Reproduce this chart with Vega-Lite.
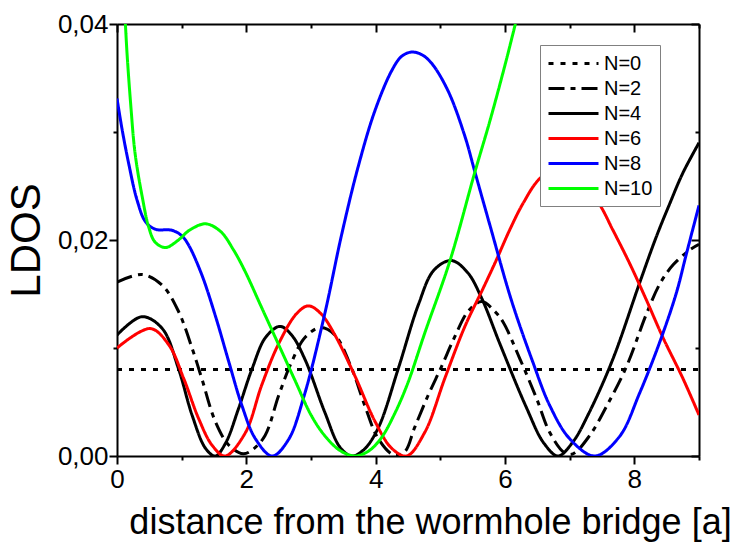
{
  "$schema": "https://vega.github.io/schema/vega-lite/v6.json",
  "width": 582,
  "height": 432,
  "autosize": {"type": "none"},
  "padding": {"left": 117, "top": 24, "right": 44, "bottom": 87},
  "background": "white",
  "config": {
    "view": {"stroke": null},
    "font": "Liberation Sans"
  },
  "data": {
    "values": [
      {"s": "N=0", "x": 0, "y": 0.008}, {"s": "N=0", "x": 9, "y": 0.008},

      {"s": "N=2", "x": 0, "y": 0.0161}, {"s": "N=2", "x": 0.39, "y": 0.0168}, {"s": "N=2", "x": 0.70, "y": 0.0158},
      {"s": "N=2", "x": 0.95, "y": 0.0134}, {"s": "N=2", "x": 1.16, "y": 0.0100}, {"s": "N=2", "x": 1.31, "y": 0.0072},
      {"s": "N=2", "x": 1.52, "y": 0.0032}, {"s": "N=2", "x": 1.73, "y": 0.0010}, {"s": "N=2", "x": 1.95, "y": 0.0002},
      {"s": "N=2", "x": 2.10, "y": 0.0006}, {"s": "N=2", "x": 2.29, "y": 0.0019}, {"s": "N=2", "x": 2.50, "y": 0.0056},
      {"s": "N=2", "x": 2.70, "y": 0.0087}, {"s": "N=2", "x": 2.91, "y": 0.0110}, {"s": "N=2", "x": 3.15, "y": 0.0119},
      {"s": "N=2", "x": 3.37, "y": 0.0112}, {"s": "N=2", "x": 3.63, "y": 0.0081}, {"s": "N=2", "x": 3.83, "y": 0.0047},
      {"s": "N=2", "x": 4.04, "y": 0.0016}, {"s": "N=2", "x": 4.28, "y": 0.0001}, {"s": "N=2", "x": 4.45, "y": 0.0004},
      {"s": "N=2", "x": 4.60, "y": 0.0026}, {"s": "N=2", "x": 4.81, "y": 0.0056}, {"s": "N=2", "x": 5.02, "y": 0.0083},
      {"s": "N=2", "x": 5.22, "y": 0.0110}, {"s": "N=2", "x": 5.43, "y": 0.0134}, {"s": "N=2", "x": 5.64, "y": 0.0143},
      {"s": "N=2", "x": 5.84, "y": 0.0134}, {"s": "N=2", "x": 5.97, "y": 0.0124}, {"s": "N=2", "x": 6.23, "y": 0.0090},
      {"s": "N=2", "x": 6.49, "y": 0.0053}, {"s": "N=2", "x": 6.69, "y": 0.0022}, {"s": "N=2", "x": 6.92, "y": 0.0003},
      {"s": "N=2", "x": 7.05, "y": 0.0002}, {"s": "N=2", "x": 7.31, "y": 0.0019}, {"s": "N=2", "x": 7.57, "y": 0.0046},
      {"s": "N=2", "x": 7.88, "y": 0.0083}, {"s": "N=2", "x": 8.19, "y": 0.0132}, {"s": "N=2", "x": 8.40, "y": 0.0160},
      {"s": "N=2", "x": 8.60, "y": 0.0177}, {"s": "N=2", "x": 8.86, "y": 0.0191}, {"s": "N=2", "x": 9.0, "y": 0.0196},

      {"s": "N=4", "x": 0, "y": 0.0112}, {"s": "N=4", "x": 0.386, "y": 0.0129}, {"s": "N=4", "x": 0.70, "y": 0.0118},
      {"s": "N=4", "x": 0.95, "y": 0.0081}, {"s": "N=4", "x": 1.16, "y": 0.0038}, {"s": "N=4", "x": 1.37, "y": 0.0007},
      {"s": "N=4", "x": 1.52, "y": 0}, {"s": "N=4", "x": 1.68, "y": 0.0012}, {"s": "N=4", "x": 1.88, "y": 0.0044},
      {"s": "N=4", "x": 2.09, "y": 0.0081}, {"s": "N=4", "x": 2.30, "y": 0.0110}, {"s": "N=4", "x": 2.52, "y": 0.0120},
      {"s": "N=4", "x": 2.70, "y": 0.0112}, {"s": "N=4", "x": 2.91, "y": 0.0089}, {"s": "N=4", "x": 3.21, "y": 0.0041},
      {"s": "N=4", "x": 3.45, "y": 0.0008}, {"s": "N=4", "x": 3.63, "y": 0}, {"s": "N=4", "x": 3.82, "y": 0.0006},
      {"s": "N=4", "x": 4.04, "y": 0.0026}, {"s": "N=4", "x": 4.35, "y": 0.0081}, {"s": "N=4", "x": 4.66, "y": 0.0140},
      {"s": "N=4", "x": 4.90, "y": 0.0172}, {"s": "N=4", "x": 5.17, "y": 0.0181}, {"s": "N=4", "x": 5.42, "y": 0.0170},
      {"s": "N=4", "x": 5.64, "y": 0.0146}, {"s": "N=4", "x": 5.92, "y": 0.0104}, {"s": "N=4", "x": 6.33, "y": 0.0045},
      {"s": "N=4", "x": 6.60, "y": 0.0012}, {"s": "N=4", "x": 6.82, "y": 0}, {"s": "N=4", "x": 7.05, "y": 0.0013},
      {"s": "N=4", "x": 7.30, "y": 0.0040}, {"s": "N=4", "x": 7.67, "y": 0.0090}, {"s": "N=4", "x": 8.08, "y": 0.0160},
      {"s": "N=4", "x": 8.34, "y": 0.0203}, {"s": "N=4", "x": 8.55, "y": 0.0234}, {"s": "N=4", "x": 8.75, "y": 0.0262},
      {"s": "N=4", "x": 9.0, "y": 0.0290},

      {"s": "N=6", "x": 0, "y": 0.0100}, {"s": "N=6", "x": 0.515, "y": 0.0118}, {"s": "N=6", "x": 0.80, "y": 0.0103},
      {"s": "N=6", "x": 1.03, "y": 0.0072}, {"s": "N=6", "x": 1.26, "y": 0.0035}, {"s": "N=6", "x": 1.47, "y": 0.0010},
      {"s": "N=6", "x": 1.67, "y": 0}, {"s": "N=6", "x": 1.98, "y": 0.0021}, {"s": "N=6", "x": 2.24, "y": 0.0066},
      {"s": "N=6", "x": 2.50, "y": 0.0104}, {"s": "N=6", "x": 2.78, "y": 0.0132}, {"s": "N=6", "x": 2.96, "y": 0.0139},
      {"s": "N=6", "x": 3.15, "y": 0.0132}, {"s": "N=6", "x": 3.37, "y": 0.0112}, {"s": "N=6", "x": 3.68, "y": 0.0074},
      {"s": "N=6", "x": 3.99, "y": 0.0032}, {"s": "N=6", "x": 4.25, "y": 0.0007}, {"s": "N=6", "x": 4.48, "y": 0},
      {"s": "N=6", "x": 4.76, "y": 0.0022}, {"s": "N=6", "x": 5.07, "y": 0.0072}, {"s": "N=6", "x": 5.38, "y": 0.0120},
      {"s": "N=6", "x": 5.66, "y": 0.0155}, {"s": "N=6", "x": 5.87, "y": 0.0182}, {"s": "N=6", "x": 6.07, "y": 0.0209},
      {"s": "N=6", "x": 6.28, "y": 0.0234}, {"s": "N=6", "x": 6.54, "y": 0.0257}, {"s": "N=6", "x": 6.94, "y": 0.0272},
      {"s": "N=6", "x": 7.44, "y": 0.0235}, {"s": "N=6", "x": 7.67, "y": 0.0209}, {"s": "N=6", "x": 7.93, "y": 0.0178},
      {"s": "N=6", "x": 8.19, "y": 0.0144}, {"s": "N=6", "x": 8.44, "y": 0.0110}, {"s": "N=6", "x": 8.75, "y": 0.0072},
      {"s": "N=6", "x": 9.0, "y": 0.0038},

      {"s": "N=8", "x": 0, "y": 0.0331}, {"s": "N=8", "x": 0.08, "y": 0.0302}, {"s": "N=8", "x": 0.18, "y": 0.0271},
      {"s": "N=8", "x": 0.31, "y": 0.0237}, {"s": "N=8", "x": 0.44, "y": 0.0217}, {"s": "N=8", "x": 0.59, "y": 0.0210},
      {"s": "N=8", "x": 0.85, "y": 0.0209}, {"s": "N=8", "x": 1.0, "y": 0.0204}, {"s": "N=8", "x": 1.11, "y": 0.0195},
      {"s": "N=8", "x": 1.31, "y": 0.0168}, {"s": "N=8", "x": 1.52, "y": 0.0130}, {"s": "N=8", "x": 1.73, "y": 0.0087},
      {"s": "N=8", "x": 1.93, "y": 0.0047}, {"s": "N=8", "x": 2.14, "y": 0.0016}, {"s": "N=8", "x": 2.40, "y": 0},
      {"s": "N=8", "x": 2.65, "y": 0.0015}, {"s": "N=8", "x": 2.89, "y": 0.0055}, {"s": "N=8", "x": 3.21, "y": 0.0131},
      {"s": "N=8", "x": 3.47, "y": 0.0204}, {"s": "N=8", "x": 3.73, "y": 0.0268}, {"s": "N=8", "x": 3.99, "y": 0.0320},
      {"s": "N=8", "x": 4.25, "y": 0.0357}, {"s": "N=8", "x": 4.40, "y": 0.0370}, {"s": "N=8", "x": 4.55, "y": 0.0374},
      {"s": "N=8", "x": 4.70, "y": 0.0372}, {"s": "N=8", "x": 4.86, "y": 0.0364}, {"s": "N=8", "x": 5.12, "y": 0.0338},
      {"s": "N=8", "x": 5.38, "y": 0.0296}, {"s": "N=8", "x": 5.53, "y": 0.0264}, {"s": "N=8", "x": 5.77, "y": 0.0213},
      {"s": "N=8", "x": 6.10, "y": 0.0144}, {"s": "N=8", "x": 6.43, "y": 0.0087}, {"s": "N=8", "x": 6.69, "y": 0.0047},
      {"s": "N=8", "x": 7.0, "y": 0.0016}, {"s": "N=8", "x": 7.39, "y": 0}, {"s": "N=8", "x": 7.77, "y": 0.0018},
      {"s": "N=8", "x": 8.08, "y": 0.0058}, {"s": "N=8", "x": 8.39, "y": 0.0105}, {"s": "N=8", "x": 8.65, "y": 0.0151},
      {"s": "N=8", "x": 8.80, "y": 0.0186}, {"s": "N=8", "x": 9.0, "y": 0.0232},

      {"s": "N=10", "x": 0.13, "y": 0.0400}, {"s": "N=10", "x": 0.155, "y": 0.0373}, {"s": "N=10", "x": 0.21, "y": 0.0327},
      {"s": "N=10", "x": 0.28, "y": 0.0280}, {"s": "N=10", "x": 0.39, "y": 0.0240}, {"s": "N=10", "x": 0.49, "y": 0.0212},
      {"s": "N=10", "x": 0.59, "y": 0.0198}, {"s": "N=10", "x": 0.75, "y": 0.0193}, {"s": "N=10", "x": 0.95, "y": 0.0200},
      {"s": "N=10", "x": 1.12, "y": 0.0209}, {"s": "N=10", "x": 1.37, "y": 0.0215}, {"s": "N=10", "x": 1.60, "y": 0.0208},
      {"s": "N=10", "x": 1.80, "y": 0.0191}, {"s": "N=10", "x": 1.98, "y": 0.0171}, {"s": "N=10", "x": 2.24, "y": 0.0137},
      {"s": "N=10", "x": 2.50, "y": 0.0103}, {"s": "N=10", "x": 2.76, "y": 0.0069}, {"s": "N=10", "x": 3.00, "y": 0.0038},
      {"s": "N=10", "x": 3.21, "y": 0.0019}, {"s": "N=10", "x": 3.45, "y": 0.0005}, {"s": "N=10", "x": 3.68, "y": 0},
      {"s": "N=10", "x": 3.90, "y": 0.0005}, {"s": "N=10", "x": 4.09, "y": 0.0017}, {"s": "N=10", "x": 4.30, "y": 0.0040},
      {"s": "N=10", "x": 4.50, "y": 0.0068}, {"s": "N=10", "x": 4.76, "y": 0.0114}, {"s": "N=10", "x": 5.15, "y": 0.0181},
      {"s": "N=10", "x": 5.53, "y": 0.0262}, {"s": "N=10", "x": 5.77, "y": 0.0311}, {"s": "N=10", "x": 6.0, "y": 0.0362},
      {"s": "N=10", "x": 6.16, "y": 0.0400}
    ]
  },
  "resolve": {"axis": {"x": "independent", "y": "independent"}},
  "layer": [
    {
      "mark": {"type": "line", "strokeWidth": 3, "interpolate": "catmull-rom", "clip": true},
      "encoding": {
        "x": {
          "field": "x", "type": "quantitative",
          "scale": {"domain": [0, 9], "nice": false, "zero": false},
          "axis": {
            "orient": "bottom",
            "values": [0, 1, 2, 3, 4, 5, 6, 7, 8, 9],
            "labelExpr": "datum.value % 2 === 0 ? format(datum.value, 'd') : ''",
            "tickSize": {"condition": {"test": "datum.value % 2 === 0", "value": 8}, "value": 4},
            "tickWidth": 2, "tickColor": "black",
            "domainWidth": 2, "domainColor": "black",
            "grid": false,
            "labelFont": "Liberation Sans", "labelFontSize": 26, "labelColor": "black", "labelPadding": 2,
            "labelFlush": false, "labelOverlap": false,
            "title": "distance from the wormhole bridge [a]",
            "titleFont": "Liberation Sans", "titleFontSize": 36, "titleFontWeight": "normal", "titleColor": "black",
            "titleX": 313, "titleY": 77, "titleAlign": "center", "titleBaseline": "alphabetic"
          }
        },
        "y": {
          "field": "y", "type": "quantitative",
          "scale": {"domain": [0, 0.04], "nice": false, "zero": false},
          "axis": {
            "orient": "left",
            "values": [0, 0.01, 0.02, 0.03, 0.04],
            "labelExpr": "round(datum.value * 100) % 2 === 0 ? replace(format(datum.value, '.2f'), '.', ',') : ''",
            "tickSize": {"condition": {"test": "round(datum.value * 100) % 2 === 0", "value": 8}, "value": 4},
            "tickWidth": 2, "tickColor": "black",
            "domainWidth": 2, "domainColor": "black",
            "grid": false,
            "labelFont": "Liberation Sans", "labelFontSize": 26, "labelColor": "black", "labelPadding": 1,
            "labelFlush": false, "labelOverlap": false,
            "title": "LDOS",
            "titleFont": "Liberation Sans", "titleFontSize": 42, "titleFontWeight": "normal", "titleColor": "black",
            "titleX": -78, "titleBaseline": "alphabetic"
          }
        },
        "color": {
          "field": "s", "type": "nominal",
          "scale": {
            "domain": ["N=0", "N=2", "N=4", "N=6", "N=8", "N=10"],
            "range": ["#000000", "#000000", "#000000", "#ff0000", "#0000ff", "#00ff00"]
          },
          "legend": {
            "orient": "none", "legendX": 423, "legendY": 21,
            "title": null,
            "fillColor": "white", "strokeColor": "#808080", "padding": 7,
            "labelFont": "Liberation Sans", "labelFontSize": 20, "labelColor": "black", "labelOffset": 34, "labelLimit": 0,
            "symbolType": "M-1,0H4", "symbolSize": 400, "symbolStrokeWidth": 3,
            "rowPadding": 3
          }
        },
        "strokeDash": {
          "field": "s", "type": "nominal",
          "scale": {
            "domain": ["N=0", "N=2", "N=4", "N=6", "N=8", "N=10"],
            "range": [[5, 7], [16, 6, 5, 6], [1, 0], [1, 0], [1, 0], [1, 0]]
          },
          "legend": {
            "orient": "none", "legendX": 423, "legendY": 21,
            "title": null,
            "fillColor": "white", "strokeColor": "#808080", "padding": 7,
            "labelFont": "Liberation Sans", "labelFontSize": 20, "labelColor": "black", "labelOffset": 34, "labelLimit": 0,
            "symbolType": "M-1,0H4", "symbolSize": 400, "symbolStrokeWidth": 3,
            "rowPadding": 3
          }
        }
      }
    },
    {
      "mark": {"type": "line", "opacity": 0},
      "encoding": {
        "detail": {"field": "s", "type": "nominal"},
        "x": {
          "field": "x", "type": "quantitative",
          "scale": {"domain": [0, 9], "nice": false, "zero": false},
          "axis": {
            "orient": "top",
            "values": [0, 1, 2, 3, 4, 5, 6, 7, 8, 9],
            "labels": false,
            "tickSize": {"condition": {"test": "datum.value % 2 === 0", "value": -8}, "value": -4},
            "tickWidth": 2, "tickColor": "black",
            "domainWidth": 2, "domainColor": "black",
            "grid": false, "title": null
          }
        },
        "y": {
          "field": "y", "type": "quantitative",
          "scale": {"domain": [0, 0.04], "nice": false, "zero": false},
          "axis": {
            "orient": "right",
            "values": [0, 0.01, 0.02, 0.03, 0.04],
            "labels": false,
            "tickSize": {"condition": {"test": "round(datum.value * 100) % 2 === 0", "value": -8}, "value": -4},
            "tickWidth": 2, "tickColor": "black",
            "domainWidth": 2, "domainColor": "black",
            "grid": false, "title": null
          }
        }
      }
    }
  ]
}
